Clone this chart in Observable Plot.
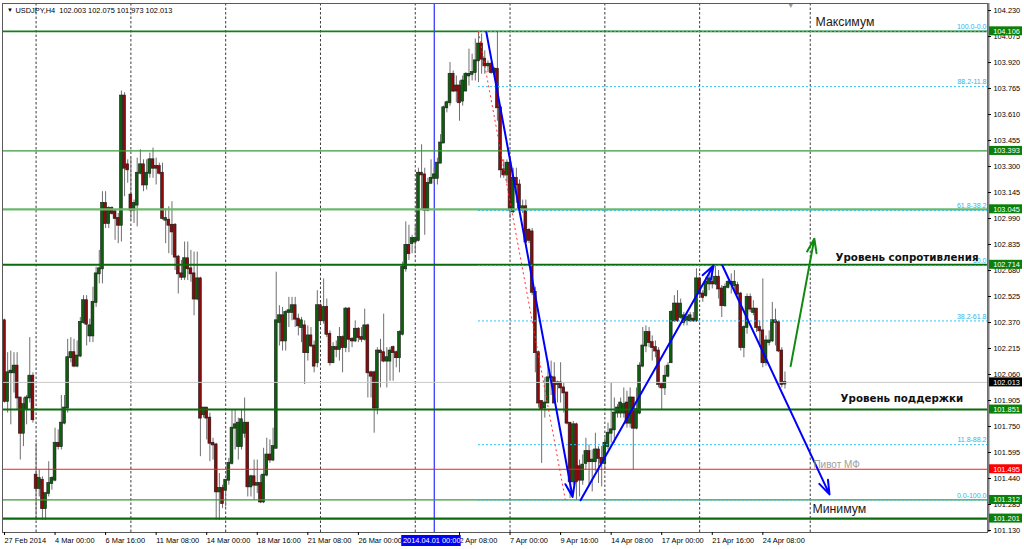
<!DOCTYPE html>
<html><head><meta charset="utf-8">
<script src="https://cdn.jsdelivr.net/npm/d3@7"></script>
<script src="https://cdn.jsdelivr.net/npm/@observablehq/plot@0.6"></script>
<style>
html,body{margin:0;padding:0;background:#fff;}
#chart{width:1024px;height:549px;overflow:hidden;}
</style></head><body><div id="chart"></div>
<script>
// ---------- DATA (USDJPY, H4, bar index 0 = 27 Feb 2014 08:00) ----------
const symbolName = "USDJPY,H4";
const openP = [
102.38,101.90,102.07,102.07,102.11,101.92,101.71,101.85,101.92,102.05,
101.46,101.38,101.43,101.26,101.35,101.41,101.43,101.65,101.63,101.77,
101.86,102.16,102.19,102.11,102.17,102.37,102.50,102.29,102.29,102.49,
102.66,102.69,103.08,102.96,103.05,103.03,102.99,102.95,103.72,103.31,
103.13,103.04,103.07,103.26,103.31,103.19,103.26,103.34,103.30,103.30,
103.26,102.98,102.98,102.95,102.95,102.76,102.66,102.64,102.75,102.69,
102.66,102.51,102.63,101.82,101.86,101.80,101.65,101.64,101.36,101.38,
101.37,101.43,101.53,101.74,101.63,101.63,101.71,101.77,101.39,101.45,
101.40,101.41,101.30,101.46,101.58,101.55,101.62,102.37,102.41,102.26,
102.43,102.43,102.47,102.39,102.34,102.35,102.19,102.29,102.23,102.13,
102.47,102.38,102.46,102.30,102.13,102.22,102.21,102.28,102.22,102.45,
102.27,102.26,102.33,102.28,102.27,102.35,102.07,102.07,101.86,102.20,
102.19,102.14,102.14,102.22,102.19,102.16,102.30,102.69,102.83,102.84,
102.85,102.86,103.26,103.25,103.04,103.20,103.23,103.23,103.32,103.44,
103.65,103.68,103.85,103.78,103.78,103.69,103.75,103.84,103.85,103.86,
103.93,104.03,103.94,103.90,103.91,103.86,103.88,103.65,103.28,103.25,
103.32,103.03,103.23,103.19,103.04,103.06,102.92,102.91,102.55,102.19,
101.90,101.86,101.89,102.04,102.04,102.00,102.01,101.98,101.95,101.77,
101.42,101.76,101.51,101.43,101.53,101.60,101.54,101.54,101.61,101.56,
101.53,101.63,101.71,101.73,101.83,101.83,101.83,101.89,101.77,101.92,
101.74,101.83,102.11,102.23,102.31,102.25,102.22,102.20,102.00,101.98,
102.05,102.13,102.38,102.48,102.40,102.37,102.38,102.38,102.39,102.38,
102.63,102.54,102.53,102.60,102.61,102.60,102.64,102.57,102.47,102.58,
102.61,102.59,102.59,102.54,102.22,102.34,102.52,102.43,102.45,102.34,
102.32,102.13,102.25,102.26,102.38,102.37,102.20,102.003];
const highP = [
102.39,102.19,102.20,102.19,102.19,101.92,101.92,101.935,102.28,102.07,
101.65,101.49,101.45,101.35,101.54,101.45,101.74,101.73,101.935,101.935,
102.27,102.28,102.27,102.26,102.40,102.53,102.53,102.39,102.58,102.70,
102.80,103.15,103.15,103.06,103.06,103.04,103.02,103.75,103.74,103.34,
103.35,103.10,103.35,103.40,103.34,103.34,103.38,103.41,103.35,103.32,
103.32,103.05,103.06,103.09,102.96,102.77,102.74,102.85,102.85,102.80,
102.79,102.79,102.64,101.86,101.86,101.83,101.68,101.65,101.47,101.40,
101.43,101.56,101.85,101.85,101.80,101.85,101.92,101.77,101.46,101.55,
101.55,101.46,101.62,101.68,101.67,101.74,102.67,102.47,102.46,102.44,
102.52,102.52,102.52,102.42,102.40,102.38,102.35,102.34,102.26,102.56,
102.48,102.63,102.51,102.32,102.25,102.26,102.34,102.29,102.46,102.46,
102.28,102.38,102.34,102.34,102.45,102.36,102.08,102.08,102.22,102.27,
102.42,102.22,102.22,102.23,102.20,102.32,102.73,102.97,102.95,102.89,
102.95,103.29,103.43,103.29,103.23,103.34,103.29,103.35,103.49,103.66,
103.69,103.92,103.87,103.84,103.81,103.84,103.86,104.00,103.97,104.06,
104.106,104.09,103.99,103.93,103.92,103.89,104.10,103.65,103.34,103.34,
103.35,103.29,103.29,103.22,103.10,103.10,102.93,102.93,102.58,102.20,
101.90,102.04,102.14,102.14,102.13,102.02,102.13,102.01,101.95,101.77,
101.78,101.77,101.55,101.58,101.68,101.64,101.61,101.71,101.63,101.63,
101.68,101.77,102.01,101.92,101.88,101.92,101.98,101.96,101.98,101.92,
101.98,102.13,102.34,102.35,102.34,102.29,102.26,102.22,102.01,102.11,
102.13,102.44,102.53,102.56,102.51,102.43,102.42,102.43,102.43,102.69,
102.64,102.56,102.64,102.68,102.68,102.714,102.68,102.59,102.60,102.62,
102.66,102.68,102.61,102.55,102.35,102.54,102.54,102.50,102.45,102.38,
102.63,102.29,102.32,102.49,102.45,102.38,102.22,102.075];
const lowP = [
101.89,101.83,101.76,101.95,101.85,101.55,101.63,101.76,101.89,101.77,
101.19,101.33,101.19,101.19,101.33,101.37,101.42,101.61,101.61,101.76,
101.83,102.13,102.10,102.10,102.16,102.36,102.23,102.25,102.25,102.46,
102.60,102.60,102.93,102.93,103.01,102.86,102.84,102.85,103.12,103.20,
102.98,102.96,102.94,103.25,103.15,103.16,103.23,103.23,103.19,103.25,
102.98,102.84,102.78,102.77,102.68,102.54,102.62,102.62,102.62,102.61,
102.41,102.50,101.57,101.80,101.67,101.54,101.55,101.19,101.19,101.26,
101.27,101.40,101.52,101.61,101.55,101.61,101.68,101.33,101.33,101.31,
101.35,101.29,101.29,101.45,101.53,101.54,101.62,102.23,102.20,102.20,
102.34,102.38,102.34,102.29,102.25,102.00,102.14,102.22,102.07,102.10,
102.36,102.36,102.28,102.11,102.13,102.16,102.14,102.07,102.19,102.19,
102.22,102.25,102.25,102.25,102.26,101.92,101.92,101.71,101.82,101.98,
102.13,101.98,102.02,102.02,102.10,102.07,102.29,102.67,102.74,102.78,
102.78,102.85,103.04,102.89,103.03,103.20,103.20,103.19,103.32,103.44,
103.62,103.66,103.74,103.68,103.57,103.66,103.75,103.78,103.81,103.81,
103.80,103.85,103.85,103.86,103.85,103.85,103.57,103.23,103.23,103.20,
102.99,103.02,103.08,103.02,103.02,102.84,102.84,102.53,102.07,101.86,
101.53,101.80,101.89,101.935,101.89,101.89,101.89,101.83,101.76,101.32,
101.40,101.31,101.33,101.40,101.49,101.40,101.36,101.48,101.41,101.39,
101.49,101.61,101.65,101.65,101.80,101.80,101.80,101.74,101.74,101.49,
101.73,101.82,102.10,102.19,102.22,102.14,102.16,101.98,101.85,101.935,
102.04,102.13,102.37,102.37,102.39,102.35,102.35,102.37,102.37,102.37,
102.52,102.49,102.52,102.56,102.57,102.59,102.51,102.40,102.46,102.57,
102.54,102.55,102.53,102.20,102.16,102.30,102.43,102.41,102.31,102.22,
102.10,102.11,102.23,102.25,102.23,102.19,101.98,101.973];
const closeP = [
101.90,102.07,102.08,102.11,101.92,101.71,101.88,101.92,102.05,101.79,
101.38,101.44,101.26,101.35,101.41,101.44,101.65,101.63,101.77,101.86,
102.16,102.19,102.11,102.17,102.37,102.50,102.36,102.35,102.49,102.66,
102.69,103.08,102.96,103.05,103.02,102.99,102.95,103.72,103.29,103.28,
103.04,103.08,103.26,103.31,103.19,103.26,103.34,103.29,103.29,103.26,
102.99,102.99,102.95,102.91,102.76,102.66,102.64,102.75,102.69,102.66,
102.51,102.63,101.80,101.86,101.80,101.65,101.64,101.36,101.38,101.29,
101.43,101.53,101.74,101.76,101.77,101.79,101.77,101.39,101.45,101.40,
101.41,101.30,101.46,101.58,101.55,101.63,102.38,102.41,102.26,102.43,
102.44,102.47,102.39,102.35,102.38,102.19,102.29,102.23,102.11,102.47,
102.38,102.46,102.30,102.13,102.22,102.21,102.28,102.22,102.45,102.27,
102.26,102.33,102.28,102.27,102.35,102.07,102.05,101.86,102.20,102.19,
102.14,102.16,102.20,102.19,102.16,102.31,102.70,102.83,102.78,102.87,
102.87,103.26,103.25,103.04,103.20,103.23,103.25,103.32,103.44,103.65,
103.68,103.85,103.75,103.75,103.68,103.81,103.85,103.85,103.86,103.93,
104.03,103.94,103.90,103.91,103.86,103.88,103.65,103.28,103.25,103.32,
103.04,103.23,103.19,103.05,103.06,102.85,102.86,102.55,102.19,101.89,
101.85,101.89,102.04,102.045,101.89,102.01,101.98,101.95,101.77,101.42,
101.76,101.42,101.43,101.52,101.60,101.54,101.55,101.61,101.56,101.53,
101.65,101.71,101.73,101.83,101.86,101.89,101.88,101.77,101.92,101.74,
101.85,102.11,102.23,102.31,102.25,102.22,102.20,102.00,101.98,102.05,
102.11,102.43,102.48,102.38,102.48,102.41,102.40,102.41,102.38,102.63,
102.54,102.52,102.61,102.63,102.60,102.64,102.57,102.47,102.58,102.61,
102.60,102.61,102.54,102.22,102.34,102.52,102.45,102.45,102.34,102.32,
102.13,102.26,102.26,102.38,102.37,102.20,102.00,102.013];

// time axis labels (bar index -> label); the 31 Mar 16:00 label is hidden under the marker box in the original
const timeTickIdx  = [0,16,32,48,64,80,96,112,144,160,176,192,208,224,240];
const timeTickText = ["27 Feb 2014","4 Mar 00:00","6 Mar 16:00","11 Mar 08:00","14 Mar 00:00",
  "18 Mar 16:00","21 Mar 08:00","26 Mar 00:00","2 Apr 08:00","7 Apr 00:00",
  "9 Apr 16:00","14 Apr 08:00","17 Apr 00:00","21 Apr 16:00","24 Apr 08:00"];
// price axis labels
const priceTicks = [101.130,101.285,101.440,101.595,101.750,101.905,102.060,102.215,102.370,102.525,
  102.680,102.835,102.990,103.145,103.300,103.455,103.610,103.765,103.920,104.075,104.230];
// weekly grid (bar index)
const gridIdx = [10,40,70,100,130,160,190,220,255];
// vertical marker line
const markerIdx = 136;
const markerLabel = "2014.04.01 00:00";
// horizontal levels
const levelPrices = [104.106,103.393,103.045,102.714,102.013,101.851,101.495,101.312,101.201];
const levelKinds  = ["max","lvlA","lvlB","resist","bid","support","pivot","lvlA","min"];
// Fibonacci retracement
const fibHigh = 104.106, fibLow = 101.312;
const fibRatios = [100,88.2,61.8,50,38.2,11.8,0];
const fibLabels = ["100.0-0.0","88.2-11.8","61.8-38.2","50.0","38.2-61.8","11.8-88.2","0.0-100.0"];
const fibAnchorIdx = [150,177.5];
// arrows (bar index, price)
const arrowX1 = [152.5,182.3,227.2,248.8];
const arrowY1 = [104.10,101.31,102.71,102.11];
const arrowX2 = [179.8,224.4,261.1,256.3];
const arrowY2 = [101.33,102.71,101.345,102.87];
const arrowKind = ["down","up","down","upGreen"];
// text notes (bar index, price)
const noteText  = ["Максимум","Уровень сопротивления","Уровень поддержки","Пивот МФ","Минимум"];
const noteIdx   = [256.7,263.0,264.6,256.0,255.7];
const notePrice = [104.164,102.757,101.917,101.523,101.255];
const noteKind  = ["big","bold","bold","pivot","big"];
const shiftMarkIdx = 248.8;

// ---------- BUILD ----------
const N = Math.min(openP.length, highP.length, lowP.length, closeP.length);
const bars = d3.range(N).map(i => ({i, o: openP[i], h: highP[i], l: lowP[i], c: closeP[i]}));
const X_DOMAIN = [-0.63, 311.1];
const Y_DOMAIN = [101.118, 104.272];
const XMAX = X_DOMAIN[1];

const LEVEL_STYLE = {
  max:     {stroke:"#13801a", w:1.6, box:"#0a7f0a"},
  lvlA:    {stroke:"#3a9a3a", w:1.2, box:"#0a7f0a"},
  lvlB:    {stroke:"#6cb86c", w:2.2, box:"#0a7f0a"},
  resist:  {stroke:"#0b6b0b", w:2,   box:"#0a7f0a"},
  bid:     {stroke:"#c8c8c8", w:1,   box:"#000000"},
  support: {stroke:"#0b6b0b", w:2,   box:"#0a7f0a"},
  pivot:   {stroke:"#ff1a1a", w:1,   box:"#ff0000"},
  min:     {stroke:"#0b6b0b", w:2.2, box:"#0a7f0a"}
};
const levels = levelPrices.map((p,k) => ({p, ...LEVEL_STYLE[levelKinds[k]]}));
const fibs = fibRatios.map((r,k) => ({p: fibLow + r/100*(fibHigh-fibLow), label: fibLabels[k]}));
const ARROW_COLOR = {down:"#0000ff", up:"#0000ff", upGreen:"#118a11"};
const arrows = arrowX1.map((x1,k) => ({x1, y1: arrowY1[k], x2: arrowX2[k], y2: arrowY2[k], color: ARROW_COLOR[arrowKind[k]]}));
const NOTE_STYLE = {
  big:   {fontSize: 12.3, fontWeight: "normal", fill: "#1a1a1a", fontFamily: "'Liberation Sans', Arial, sans-serif"},
  bold:  {fontSize: 10.3, fontWeight: "bold",   fill: "#111",    fontFamily: "'DejaVu Sans', Verdana, sans-serif"},
  pivot: {fontSize: 10,   fontWeight: "normal", fill: "#a0a0a0", fontFamily: "'Liberation Sans', Arial, sans-serif"}
};
const notes = noteText.map((t,k) => ({t, x: noteIdx[k], y: notePrice[k], kind: noteKind[k]}));
const last = bars[N-1];
const titleText = `${symbolName}  ${last.o.toFixed(3)} ${last.h.toFixed(3)} ${last.l.toFixed(3)} ${last.c.toFixed(3)}`;

const marks = [
  Plot.ruleX(gridIdx, {x: d => d, stroke: "#3c3c3c", strokeDasharray: "2.5,2", strokeWidth: 1}),
  Plot.ruleX([markerIdx], {x: d => d, stroke: "#0000ff", strokeWidth: 1}),
  // candles
  Plot.ruleX(bars, {x: "i", y1: "l", y2: "h", stroke: "#6f6f6f", strokeWidth: 1}),
  Plot.rect(bars, {x1: d => d.i - 0.45, x2: d => d.i + 0.45, y1: "o", y2: "c",
    fill: d => d.c > d.o ? "#0d5f0d" : (d.c < d.o ? "#8a0b0b" : "#555"),
    stroke: "#1b1b1b", strokeWidth: 0.6, insetTop: -0.5, insetBottom: -0.5}),
  // levels
  ...levels.map(l => Plot.ruleY([l], {y: "p", stroke: l.stroke, strokeWidth: l.w})),
  // fibonacci
  Plot.ruleY(fibs, {y: "p", x1: () => fibAnchorIdx[0], x2: () => XMAX, stroke: "#2ec0f2", strokeDasharray: "2,2", strokeWidth: 1}),
  Plot.text(fibs, {x: () => XMAX, y: "p", text: "label", textAnchor: "end", dx: -1, dy: -4.5, fill: "#2eb4ee", fontSize: 7}),
  Plot.link([0], {x1: () => fibAnchorIdx[0], y1: () => fibHigh, x2: () => fibAnchorIdx[1], y2: () => fibLow,
    stroke: "#ff3030", strokeDasharray: "2,3", strokeWidth: 1}),
  // arrows
  ...arrows.map(a => Plot.arrow([a], {x1: "x1", y1: "y1", x2: "x2", y2: "y2", stroke: a.color, strokeWidth: 2, headLength: 11, headAngle: 38})),
  // notes
  ...notes.map(n => Plot.text([n], {x: "x", y: "y", text: "t", textAnchor: "start", lineAnchor: "middle", ...NOTE_STYLE[n.kind]})),
  // title & shift marker
  Plot.text(["▼"], {frameAnchor: "top-left", dx: 7.5, dy: 7, fontSize: 6, fill: "#000", textAnchor: "middle", lineAnchor: "middle"}),
  Plot.text([titleText], {frameAnchor: "top-left", dx: 13, dy: 7, textAnchor: "start", lineAnchor: "middle", fontSize: 7.4, fill: "#000"}),
  Plot.text(["▼"], {x: () => shiftMarkIdx, frameAnchor: "top", dy: 2.5, fontSize: 7, fill: "#9a9a9a", lineAnchor: "middle"}),
  // frame & axes
  Plot.frame({stroke: "#5a5a5a", strokeWidth: 1}),
  Plot.ruleX([XMAX], {x: d => d, stroke: "#808080", strokeWidth: 2, dx: 1}),
  Plot.axisY({anchor: "right", ticks: priceTicks, tickFormat: d3.format(".3f"), tickSize: 3, tickPadding: 3, label: null, fontSize: 7.4}),
  Plot.axisX({anchor: "bottom", ticks: timeTickIdx, tickFormat: i => timeTickText[timeTickIdx.indexOf(i)], tickSize: 3, tickPadding: 2, textAnchor: "start", label: null, fontSize: 7.4}),
  // price boxes on axis
  ...levels.map(l => Plot.rect([l], {x1: () => XMAX, x2: () => XMAX, y1: "p", y2: "p", fill: l.box,
    insetLeft: 2, insetRight: -35, insetTop: -4.5, insetBottom: -4.5})),
  Plot.text(levels, {x: () => XMAX, y: "p", text: d => d.p.toFixed(3), dx: 19, fill: "#fff", textAnchor: "middle", fontSize: 7.4}),
  // marker time box
  Plot.rect([markerIdx], {x1: d => d, x2: d => d, y1: () => Y_DOMAIN[0], y2: () => Y_DOMAIN[0], fill: "#0000ff",
    insetLeft: -32.5, insetRight: -27, insetTop: 3, insetBottom: -14}),
  Plot.text([markerLabel], {x: () => markerIdx, y: () => Y_DOMAIN[0], text: d => d, dy: 8.5, dx: -2.5, fill: "#fff", fontSize: 7.4, textAnchor: "middle"})
];

const chart = Plot.plot({
  width: 1024, height: 549,
  marginLeft: 2, marginRight: 37, marginTop: 3, marginBottom: 17,
  x: {domain: X_DOMAIN},
  y: {domain: Y_DOMAIN},
  color: {type: "identity"},
  style: {fontFamily: "'Liberation Sans', Arial, sans-serif", fontSize: "7.4px", color: "#000", background: "#fff", overflow: "visible"},
  marks
});
document.getElementById("chart").appendChild(chart);
</script></body></html>
